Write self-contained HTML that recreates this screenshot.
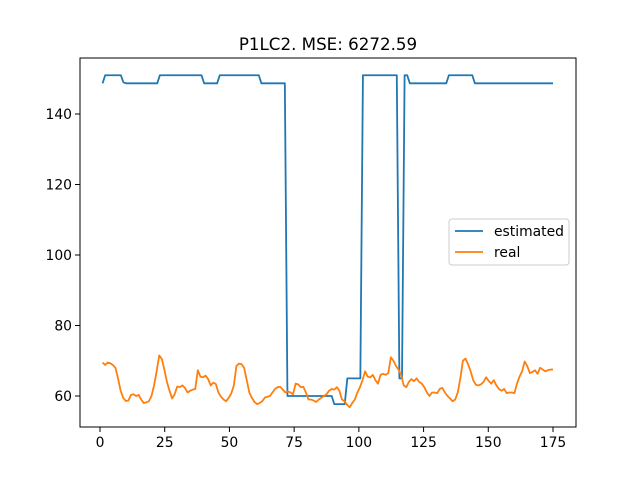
<!DOCTYPE html>
<html><head><meta charset="utf-8"><style>
body{margin:0;background:#fff;font-family:"Liberation Sans","DejaVu Sans",sans-serif}
svg text{font-family:"DejaVu Sans","Liberation Sans",sans-serif}
</style></head><body>
<svg id="c" width="640" height="480" xmlns="http://www.w3.org/2000/svg"></svg>
<script>
const xTicks=[0,25,50,75,100,125,150,175];
const yTicks=[60,80,100,120,140];
const estimated=[148.7,151,151,151,151,151,151,151,149,148.7,148.7,148.7,148.7,148.7,148.7,148.7,148.7,148.7,148.7,148.7,148.7,148.7,151,151,151,151,151,151,151,151,151,151,151,151,151,151,151,151,151,148.7,148.7,148.7,148.7,148.7,148.7,151,151,151,151,151,151,151,151,151,151,151,151,151,151,151,151,148.7,148.7,148.7,148.7,148.7,148.7,148.7,148.7,148.7,148.7,60,60,60,60,60,60,60,60,60,60,60,60,60,60,60,60,60,60,57.7,57.7,57.7,57.7,57.7,65,65,65,65,65,65,151,151,151,151,151,151,151,151,151,151,151,151,151,151,65,65,151,151,148.7,148.7,148.7,148.7,148.7,148.7,148.7,148.7,148.7,148.7,148.7,148.7,148.7,148.7,148.7,151,151,151,151,151,151,151,151,151,151,148.7,148.7,148.7,148.7,148.7,148.7,148.7,148.7,148.7,148.7,148.7,148.7,148.7,148.7,148.7,148.7,148.7,148.7,148.7,148.7,148.7,148.7,148.7,148.7,148.7,148.7,148.7,148.7,148.7,148.7,148.7];
const real=[69.5,68.8,69.5,69.3,68.8,68,65,61.5,59.5,58.6,58.7,60.3,60.5,60,60.3,59,58,58.2,58.5,60,63,67,71.5,70.5,67.5,64,61.5,59.3,60.5,62.7,62.5,63,62.3,61,61.5,61.8,62,67.3,65.5,65.3,65.8,64.8,63,63.8,63.4,61,59.8,59,58.5,59.5,60.7,63,68.5,69.2,69,68,64.5,61,59.5,58.3,57.7,58,58.5,59.5,59.8,60,61,62,62.5,62.6,61.8,61,61.3,61,60.5,63.5,63.3,62.5,62.6,61,59,59,58.7,58.3,59,59.5,60,60.5,61.5,62,61.8,62.5,61.5,59,58.5,57.5,56.8,58,59,61,62.5,64.5,67,65.5,65.3,66,64.5,63.5,66,66.3,66,66.5,71,70,68.5,67.5,66,63,62.5,64,64.8,64.2,65,64,63.5,62.5,61,60,61,61,60.8,62,62.3,61,60,59.3,58.5,59,61,65,70,70.6,69,67,64.5,63.2,63,63.3,64,65.3,64.3,63.5,64.5,63,62,61.5,62,60.8,61,61,60.8,63.5,65.5,67,69.8,68.5,66.5,66.8,67.3,66.3,68,67.5,67,67.3,67.5,67.5];
const NS="http://www.w3.org/2000/svg",svg=document.getElementById('c');
const L=80,R=576,T=58,B=427;
const xs=v=>100+(v-0)*(553-100)/175;
const ys=v=>396-(v-60)*(396-114)/80;
function mk(t,a,p){const e=document.createElementNS(NS,t);for(const k in a)e.setAttribute(k,a[k]);(p||svg).appendChild(e);return e;}
function line(arr,color,name){const n=arr.length;let d=arr.map((v,i)=>(i?'L':'M')+xs(1+i*174/(n-1)).toFixed(2)+' '+ys(v).toFixed(2)).join(' ');
const p=mk('path',{d:d,fill:'none',stroke:color,'stroke-width':1.8,'stroke-linejoin':'round'});

}
line(estimated,'#1f77b4','estimated-line');
line(real,'#ff7f0e','real-line');
const fr=mk('rect',{x:L,y:T,width:R-L,height:B-T,fill:'none',stroke:'#000','stroke-width':1});


xTicks.forEach(t=>{const x=xs(t);mk('line',{x1:x,x2:x,y1:B,y2:B+5,stroke:'#000','stroke-width':1});
const tx=mk('text',{x:x,y:B+20,'font-size':13.9,'text-anchor':'middle'});tx.textContent=t;

});
yTicks.forEach(t=>{const y=ys(t);mk('line',{x1:L,x2:L-5,y1:y,y2:y,stroke:'#000','stroke-width':1});
const tx=mk('text',{x:L-8,y:y+5,'font-size':13.9,'text-anchor':'end'});tx.textContent=t;

});
const ti=mk('text',{x:328,y:50,'font-size':16.7,'text-anchor':'middle'});ti.textContent='P1LC2. MSE: 6272.59';


const g=mk('g',{});


mk('rect',{x:449,y:219,width:120,height:46,rx:3,fill:'#fff',stroke:'#ccc','stroke-width':1},g);
[['estimated','#1f77b4',231],['real','#ff7f0e',252]].forEach(([n,c,y])=>{
mk('line',{x1:455,x2:483,y1:y,y2:y,stroke:c,'stroke-width':1.8},g);
const t=mk('text',{x:494,y:y+5,'font-size':13.9},g);t.textContent=n;

});
</script>
</body></html>
